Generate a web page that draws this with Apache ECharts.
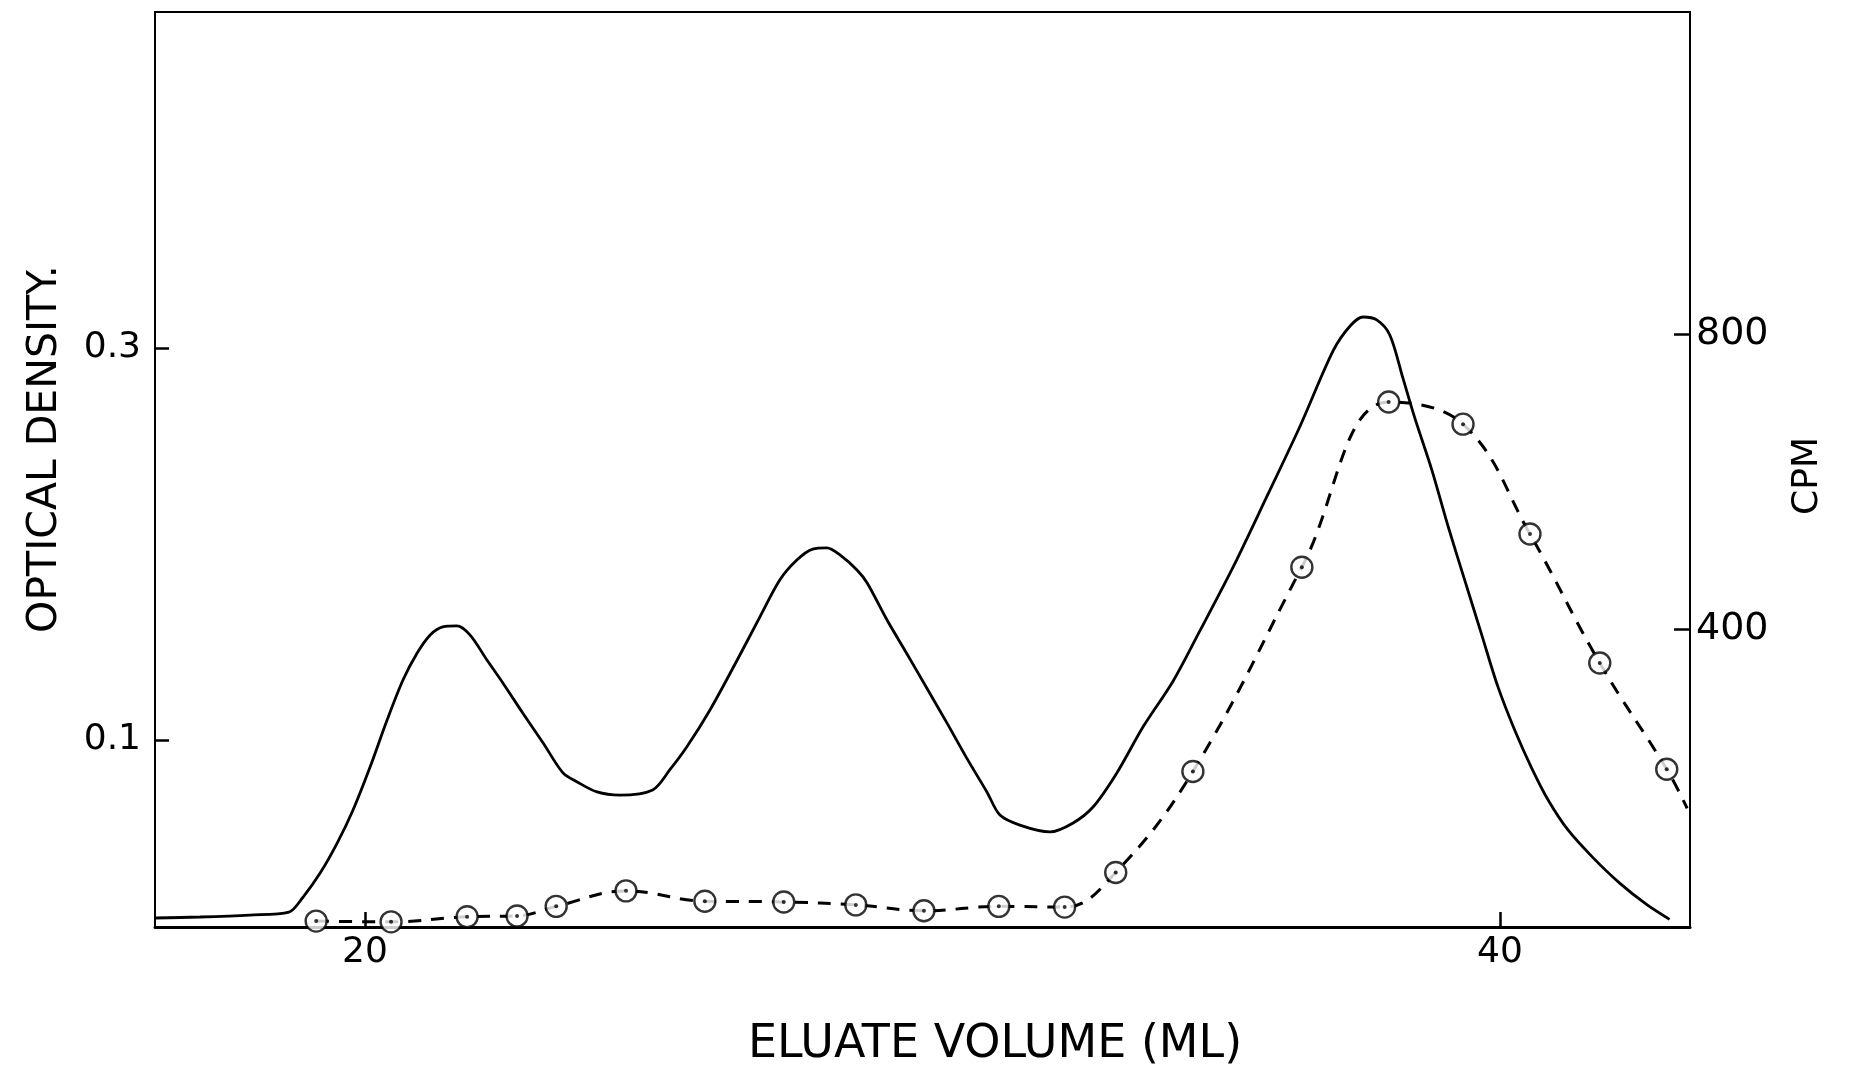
<!DOCTYPE html>
<html>
<head>
<meta charset="utf-8">
<title>Eluate volume</title>
<script src="https://cdn.jsdelivr.net/npm/echarts@6/dist/echarts.min.js"></script>
<style>
  html, body { margin: 0; padding: 0; background: #fff; }
  #chart { width: 1851px; height: 1071px; }
</style>
</head>
<body>
<div id="chart"></div>
<script>
// optical density trace (solid line)
var odVolume = [16.3, 17.09, 17.97, 18.66, 18.91, 19.21, 19.51, 19.79, 20.09, 20.39,
  20.67, 20.92, 21.15, 21.37, 21.62, 21.85, 22.15, 22.43, 22.78, 23.14,
  23.49, 23.74, 24.09, 24.49, 25.07, 25.37, 25.67, 26.08, 26.56, 26.96,
  27.31, 27.61, 27.89, 28.14, 28.37, 28.67, 28.85, 29.20, 29.55, 29.90,
  30.26, 30.61, 30.96, 31.19, 31.54, 32.07, 32.48, 32.83, 33.25, 33.71,
  34.24, 34.71, 35.30, 35.89, 36.48, 37.06, 37.36, 37.59, 37.83, 38.06,
  38.29, 38.50, 38.80, 39.08, 39.38, 39.68, 39.96, 40.26, 40.56, 40.85,
  41.20, 41.64, 42.11, 42.59, 42.99];
var odValue = [0.0092, 0.0097, 0.0107, 0.0122, 0.0199, 0.0321, 0.0474, 0.0643, 0.0862, 0.1102,
  0.1306, 0.1444, 0.1536, 0.1577, 0.1582, 0.1536, 0.1408, 0.1291, 0.1138, 0.0985,
  0.0832, 0.0786, 0.0735, 0.0719, 0.0745, 0.0847, 0.0964, 0.1153, 0.1408, 0.1628,
  0.1816, 0.1918, 0.1974, 0.1980, 0.1944, 0.1867, 0.1801, 0.1612, 0.1440, 0.1265,
  0.1085, 0.0905, 0.0735, 0.0617, 0.0566, 0.0531, 0.0577, 0.0658, 0.0832, 0.1066,
  0.1300, 0.1555, 0.1883, 0.2240, 0.2602, 0.2985, 0.3112, 0.3158, 0.3143, 0.3066,
  0.2847, 0.2643, 0.2378, 0.2097, 0.1816, 0.1536, 0.1276, 0.1051, 0.0857, 0.0694,
  0.0541, 0.0400, 0.0270, 0.0160, 0.0085];

// counts per minute (open circles, dashed line)
var cpmVolume = [19.14, 20.46, 21.80, 22.68, 23.37, 24.60, 25.99, 27.38, 28.65, 29.85,
  31.17, 32.33, 33.23, 34.59, 36.51, 38.04, 39.35, 40.53, 41.76, 42.94];
var cpmValue = [4, 3, 10, 11, 24, 45, 31, 30, 26, 18,
  24, 23, 70, 207, 484, 708, 678, 529, 354, 210];
// the dashed line runs on past the last circle to the right border
var cpmTailVolume = 43.3;
var cpmTailValue = 157;

// tick labels
var volumeTicks = [20, 40];
var odTicks = [0.1, 0.3];
var cpmTicks = [400, 800];

var FONT = '"DejaVu Sans", "Liberation Sans", sans-serif';

var odData = odVolume.map(function (v, i) { return [v, odValue[i]]; });
var cpmData = cpmVolume.map(function (v, i) { return [v, cpmValue[i]]; });
var cpmLine = cpmData.concat([[cpmTailVolume, cpmTailValue]]);

var chart = echarts.init(document.getElementById('chart'));

var option = {
  backgroundColor: '#fff',
  animation: false,
  grid: {
    left: 155, right: 161, top: 12, bottom: 144,
    show: true, borderColor: '#000', borderWidth: 2,
    outerBoundsMode: 'none'
  },
  xAxis: {
    type: 'value',
    min: 16.3, max: 43.35,
    axisLine: { show: true, onZero: false, lineStyle: { color: '#000', width: 3 } },
    axisTick: { show: true, inside: true, length: 15, customValues: volumeTicks,
      lineStyle: { color: '#000', width: 2.5 } },
    axisLabel: { customValues: volumeTicks, color: '#000', fontSize: 36,
      fontFamily: FONT, margin: 8 },
    splitLine: { show: false }
  },
  yAxis: [{
    type: 'value',
    position: 'left',
    min: 0.0046, max: 0.4714,
    axisLine: { show: true, lineStyle: { color: '#000', width: 2 } },
    axisTick: { show: true, inside: true, length: 14, customValues: odTicks,
      lineStyle: { color: '#000', width: 2.5 } },
    axisLabel: { customValues: odTicks, color: '#000', fontSize: 36,
      fontFamily: FONT, margin: 14 },
    splitLine: { show: false }
  }, {
    type: 'value',
    position: 'right',
    min: -4, max: 1237,
    axisLine: { show: true, lineStyle: { color: '#000', width: 2 } },
    axisTick: { show: true, inside: true, length: 16, customValues: cpmTicks,
      lineStyle: { color: '#000', width: 2.5 } },
    axisLabel: { customValues: cpmTicks, color: '#000', fontSize: 38,
      fontFamily: FONT, margin: 6 },
    splitLine: { show: false }
  }],
  graphic: [{
    type: 'text', x: 45, y: 449, rotation: Math.PI / 2,
    style: { text: 'OPTICAL DENSITY.', fill: '#000', font: '41px ' + FONT,
      textAlign: 'center', textVerticalAlign: 'middle' }
  }, {
    type: 'text', x: 1808, y: 476, rotation: Math.PI / 2,
    style: { text: 'CPM', fill: '#000', font: '36px ' + FONT,
      textAlign: 'center', textVerticalAlign: 'middle' }
  }, {
    type: 'text', x: 995, y: 1045,
    style: { text: 'ELUATE VOLUME (ML)', fill: '#000', font: '46px ' + FONT,
      textAlign: 'center', textVerticalAlign: 'middle' }
  }],
  series: [{
    name: 'OD',
    type: 'line',
    yAxisIndex: 0,
    data: odData,
    smooth: 0.3,
    symbol: 'none',
    lineStyle: { color: '#000', width: 2.8 },
    z: 2
  }, {
    name: 'CPM line',
    type: 'line',
    yAxisIndex: 1,
    data: cpmLine,
    smooth: 0.4,
    symbol: 'none',
    lineStyle: { color: '#000', width: 3, type: [13, 10] },
    z: 3
  }, {
    name: 'CPM',
    type: 'scatter',
    yAxisIndex: 1,
    data: cpmData,
    symbol: 'circle',
    symbolSize: 21,
    itemStyle: { color: '#fff', borderColor: '#000', borderWidth: 2.4 },
    z: 4
  }, {
    name: 'CPM centre',
    type: 'scatter',
    yAxisIndex: 1,
    data: cpmData,
    symbol: 'circle',
    symbolSize: 4,
    itemStyle: { color: '#000' },
    z: 5
  }]
};

chart.setOption(option);
</script>
</body>
</html>
